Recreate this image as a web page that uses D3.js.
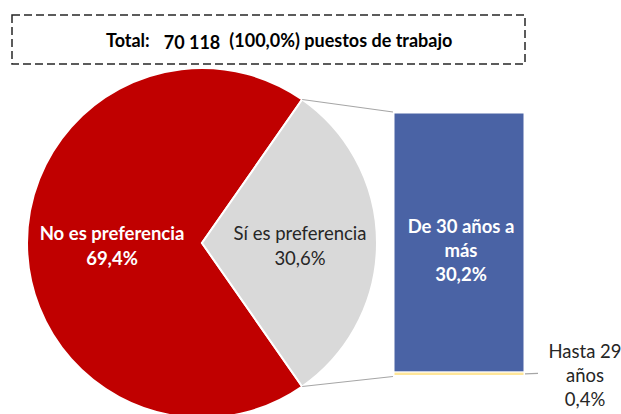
<!DOCTYPE html>
<html lang="es">
<head>
<meta charset="utf-8">
<title>Puestos de trabajo por preferencia de edad</title>
<script src="https://cdn.jsdelivr.net/npm/d3@7"></script>
<style>
  body { margin: 0; background: #fff; }
  svg { display: block; font-family: 'Lato', 'Open Sans', sans-serif; }
</style>
</head>
<body>
<div id="chart"></div>
<script>

/* Data */
/* ==== */

var total = '70 118';
var pieLabels = ['No es preferencia', 'Sí es preferencia'];
var pieValues = [69.4, 30.6];
var barLabels = [['De 30 años a', 'más'], ['Hasta 29', 'años']];
var barValues = [30.2, 0.4];

/* Setup */
/* ===== */

var width = 621,
    height = 414,
    cx = 202,
    cy = 243,
    radius = 175;

var svg = d3.select('#chart').append('svg')
    .attr('width', width)
    .attr('height', height);

var fmt = function(v) { return d3.format('.1f')(v).replace('.', ',') + '%'; };

/* Total box */
/* --------- */

svg.append('rect')
    .attr('x', 12).attr('y', 15)
    .attr('width', 513).attr('height', 49)
    .attr('fill', 'none')
    .attr('stroke', '#262626')
    .attr('stroke-width', 1.5)
    .attr('stroke-dasharray', '8,4');

var totalText = svg.append('text')
    .attr('x', 106).attr('y', 47)
    .attr('font-size', 18)
    .attr('font-weight', 'bold')
    .attr('fill', '#000');
totalText.append('tspan').text('Total:');
totalText.append('tspan').attr('dx', 14).attr('dy', 2).text(total);
totalText.append('tspan').attr('dx', 9).attr('dy', -2).text('(100,0%) puestos de trabajo');

/* Pie */
/* --- */

var share = pieValues[1] / d3.sum(pieValues);
var start = Math.PI / 2 + share * Math.PI;

var pie = d3.pie().sort(null)
    .startAngle(start)
    .endAngle(start + 2 * Math.PI);

var arc = d3.arc().innerRadius(0).outerRadius(radius);

var slices = pie(pieValues);
var pieColors = ['#C00000', '#D9D9D9'];

var g = svg.append('g').attr('transform', 'translate(' + cx + ',' + cy + ')');

g.selectAll('path')
  .data(slices)
  .join('path')
    .attr('d', arc)
    .attr('fill', function(d, i) { return pieColors[i]; })
    .attr('stroke', '#fff')
    .attr('stroke-width', 2);

// slice labels
var pieLabelPos = [[112 - cx, 0], [300 - cx, 0]];
slices.forEach(function(d, i) {
  var t = g.append('text')
      .attr('text-anchor', 'middle')
      .attr('font-size', 18.5)
      .attr('font-weight', i === 0 ? 'bold' : 'normal')
      .attr('fill', i === 0 ? '#fff' : '#262626');
  t.append('tspan').attr('x', pieLabelPos[i][0]).attr('y', -3).text(pieLabels[i]);
  t.append('tspan').attr('x', pieLabelPos[i][0]).attr('y', 22).text(fmt(pieValues[i]));
});

/* Bar of pie */
/* ---------- */

var barX = 394, barW = 130;
var y = d3.scaleLinear()
    .domain([0, d3.sum(barValues)])
    .range([375.5, 113]);

var stack = [
  { v0: barValues[1], v1: barValues[1] + barValues[0], color: '#4A63A5' },
  { v0: 0, v1: barValues[1], color: '#FFE699' }
];

svg.selectAll('rect.seg')
  .data(stack)
  .join('rect')
    .attr('class', 'seg')
    .attr('x', barX)
    .attr('width', barW)
    .attr('y', function(d) { return y(d.v1); })
    .attr('height', function(d) { return y(d.v0) - y(d.v1); })
    .attr('fill', function(d) { return d.color; })
    .attr('stroke', '#fff')
    .attr('stroke-width', 1);

// connector lines
var grey = slices[1];
function arcPoint(a) { return [cx + radius * Math.sin(a), cy - radius * Math.cos(a)]; }
var pTop = arcPoint(grey.startAngle),
    pBot = arcPoint(grey.endAngle);

svg.append('line')
    .attr('x1', pTop[0]).attr('y1', pTop[1])
    .attr('x2', barX - 1).attr('y2', y.range()[1] - 1)
    .attr('stroke', '#A6A6A6').attr('stroke-width', 1.2);

svg.append('line')
    .attr('x1', pBot[0]).attr('y1', pBot[1])
    .attr('x2', barX - 1).attr('y2', y.range()[0] + 1)
    .attr('stroke', '#A6A6A6').attr('stroke-width', 1.2);

// big segment label
var bl = svg.append('text')
    .attr('text-anchor', 'middle')
    .attr('font-size', 18.5)
    .attr('font-weight', 'bold')
    .attr('fill', '#fff');
var bx = barX + barW / 2 + 2;
bl.append('tspan').attr('x', bx).attr('y', 233).text(barLabels[0][0]);
bl.append('tspan').attr('x', bx).attr('y', 257).text(barLabels[0][1]);
bl.append('tspan').attr('x', bx).attr('y', 281).text(fmt(barValues[0]));

// small segment label with leader
svg.append('line')
    .attr('x1', barX + barW + 1).attr('y1', y(barValues[1] / 2))
    .attr('x2', 538).attr('y2', y(barValues[1] / 2) - 0.5)
    .attr('stroke', '#A6A6A6').attr('stroke-width', 1.2);

var sl = svg.append('text')
    .attr('text-anchor', 'middle')
    .attr('font-size', 18.5)
    .attr('fill', '#262626');
sl.append('tspan').attr('x', 585).attr('y', 358).text(barLabels[1][0]);
sl.append('tspan').attr('x', 585).attr('y', 382).text(barLabels[1][1]);
sl.append('tspan').attr('x', 585).attr('y', 406).text(fmt(barValues[1]));

</script>
</body>
</html>
